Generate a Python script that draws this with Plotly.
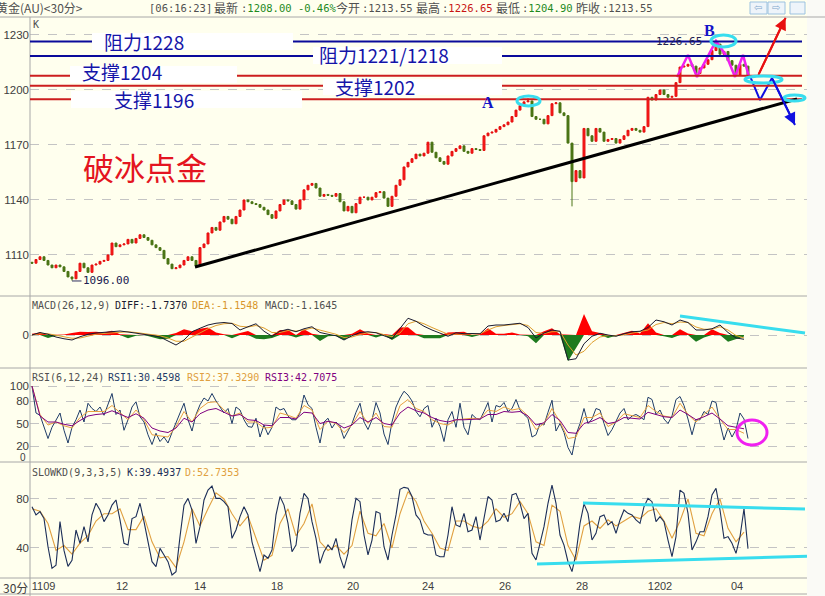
import plotly.graph_objects as go
from plotly.subplots import make_subplots

W, H = 825, 596

# ---------------- data ----------------
closes = [1105.5,1107.5,1109,1107,1104.5,1103,1104.5,1103.5,1101,1098,
          1097,1101,1105.5,1103,1100.5,1104.5,1105,1106.5,1107,1110,
          1116.5,1114.5,1115.5,1116,1118.5,1116.5,1119,1121,1119.5,1118,
          1115.5,1114,1112.5,1108,1105,1102.5,1103,1104.5,1107,1109,
          1107,1104,1114,1116,1122,1125,1123.5,1128,1131,1129.5,
          1127,1131,1134.5,1140,1139,1138,1137.5,1136,1134.5,1132,
          1130,1134,1137.5,1140,1139.5,1137.5,1135,1140,1145.5,1148,
          1149,1146.5,1142,1143,1142.5,1142,1143.5,1139,1134,1136.5,
          1133,1138,1141.5,1141.5,1140,1141.5,1144,1144.5,1141,1136.5,
          1142,1148,1151,1158,1160.5,1162.5,1165,1164,1165.5,1171.5,
          1166,1163,1161,1159.5,1164,1166.5,1168,1169.5,1166.5,1165.5,
          1168,1167.5,1167,1175,1176.5,1177,1178.5,1180,1181,1182.5,
          1185.5,1189,1191.5,1193.5,1194,1185.5,1184,1184,1181.5,1186,
          1192.5,1193,1187.5,1186,1171,1150,1156,1152,1179,1175,
          1172,1179,1177,1172,1173,1173.5,1171,1173,1175,1178,
          1179,1178,1177,1180,1196,1194.5,1197.5,1200,1197.5,1196,
          1196.5,1204,1212.5,1213,1214,1213,1209,1212,1214,1216.5,
          1221.5,1225,1219.5,1221,1216,1213.5,1208,1214,1213,1208]
first_open = 1106.0
spike_high = {124: 1195.5, 171: 1226.65}
spike_low = {10: 1096.0, 135: 1136.5}

macd_hist = [0.5,1.0,-1.2,-0.3,0.2,0.8,1.3,1.2,1.3,1.0,
             1.7,0.3,-1.3,-0.3,0.2,-0.8,-1.7,-1.5,0.8,2.3,
             1.5,2.5,3.0,1.0,0.3,-1.3,0.8,1.6,-1.5,-1.7,
             -1.2,2.0,2.0,-1.0,2.3,0.5,-2.4,-0.5,-0.3,-2.0,
             0.5,2.3,0.6,-1.0,0.4,-2.0,3.0,3.1,0.5,-1.3,
             -1.2,-1.3,1.0,1.2,1.3,-0.8,0.3,2.7,0.5,0.5,
             1.0,0.2,-0.5,-3.3,1.5,2.7,0.3,-10.5,-5.5,8.4,
             1.5,0.8,-1.2,-0.3,0.8,1.7,0.6,4.7,1.0,-0.5,
             -1.2,2.3,0.6,-2.7,-1.0,2.3,0.8,-2.7,-1.8,-0.6]
macd_diff = [0,1.0,0.3,-0.8,-1.5,-2.0,-0.7,0.3,0.8,1.0,
             1.3,1.6,1.2,0.8,0.3,-0.2,-0.8,-2.5,-4.0,-2.0,
             1.3,2.7,4.0,4.7,5.0,4.6,2.0,3.3,4.5,1.5,
             -0.5,1.5,2.3,1.3,2.5,3.3,1.0,0.3,-0.3,-2.0,
             -0.3,1.0,1.3,0.9,-0.3,-1.5,2.6,6.7,5.5,3.5,
             2.0,0.6,-0.5,0.9,0.5,0.6,0.5,3.6,4.0,4.0,
             4.5,4.7,3.0,-1.2,0.8,2.0,1.5,-10.0,-9.5,-3.5,
             -0.5,0.7,0.0,-0.5,0.5,1.3,1.5,3.0,6.0,5.3,
             4.0,6.0,5.0,2.0,2.0,2.5,4.0,1.0,-1.2,-1.7]
macd_dea = [0,0.5,0.5,0,-0.7,-1.3,-1.2,-0.4,0.3,0.6,
            0.9,1.2,1.3,1.0,0.6,0.2,-0.3,-1.2,-2.5,-2.5,
            -0.8,1.0,2.5,3.8,4.5,4.7,3.5,3.2,3.8,2.8,
            1.0,1.0,1.8,1.6,2.0,2.8,2.0,1.0,0.3,-1.0,
            -0.8,0.2,0.9,1.0,0.3,-0.7,0.8,4.5,5.5,4.5,
            3.0,1.5,0.3,0.3,0.4,0.5,0.5,2.0,3.3,3.8,
            4.2,4.5,3.8,1.0,0.6,1.3,1.4,-4.0,-8.0,-6.5,
            -3.0,-0.8,-0.2,-0.3,0.1,0.8,1.2,2.0,4.2,5.0,
            4.5,5.2,5.0,3.2,2.3,2.3,3.3,2.0,-0.2,-1.15]

rsi1 = [100,64,61,46,30,45,55,64,41,24,
        45,55,68,52,77,70,66,72,61,75,
        90,62,68,41,55,72,79,59,52,35,
        22,37,26,32,24,38,52,64,77,55,
        40,62,75,84,80,90,80,72,64,70,
        50,72,68,55,46,45,57,32,48,35,
        45,72,68,70,60,55,55,64,88,75,
        70,45,24,52,57,44,52,46,30,40,
        50,65,77,52,42,55,78,64,36,22,
        52,72,84,93,88,80,66,59,70,74,
        45,57,46,26,55,66,45,77,45,35,
        62,57,55,66,78,52,74,72,78,66,
        70,82,68,62,57,32,35,50,48,65,
        81,40,50,38,18,8,35,50,70,50,
        56,70,68,50,34,42,52,64,70,55,
        60,62,59,55,85,82,62,68,56,50,
        60,82,86,74,56,35,55,55,66,62,
        80,78,50,28,44,32,42,64,56,30]
rsi2 = [100,62,48,52,47,44,58,66,66,66,
        74,64,55,68,55,35,33,32,46,66,
        52,70,78,79,68,60,64,52,52,44,
        45,64,61,57,74,68,42,53,50,38,
        48,66,50,64,46,45,74,82,70,66,
        55,50,48,55,56,57,56,68,66,72,
        68,70,60,42,50,70,52,30,32,58,
        58,64,46,52,63,60,58,74,66,60,
        58,77,62,52,62,72,56,42,42,37]
rsi3 = [100,60,52,52,49,47,54,60,62,63,
        67,63,58,63,57,44,40,38,44,57,
        52,63,68,70,65,60,62,55,54,48,
        47,58,58,56,65,64,50,53,51,44,
        48,58,52,58,50,48,64,72,67,64,
        58,54,52,55,55,56,56,62,62,66,
        65,66,60,48,51,62,54,38,37,50,
        53,58,50,52,58,57,56,65,62,59,
        58,68,62,55,59,64,56,47,45,43]

kd_k = [73.7,67,69.7,64,41,23.4,26,61.5,38,25,
        30,54.7,43.8,57.4,45,67,76.5,71,61.5,67,
        75,79.2,62.9,43.8,42.4,64,65.6,76.5,61.5,45,
        28.8,24.8,39.7,34.3,28.8,18,20.7,49.3,75,80.5,
        71,43.8,57.4,79.2,87.3,90.6,80.5,80.5,77.8,73.7,
        47.9,54.7,65.6,73.7,67,45,32.9,20.7,34.3,31.6,
        38.4,67,82,75,60.1,37,42.4,68.3,84.6,80.5,
        61.5,47.9,27.5,37,42.4,38.4,47.9,32.9,23.4,35.6,
        62.9,80.5,77.8,50.6,34.3,46.5,69.7,68.3,41,30.2,
        50.6,67,87.9,89.5,88.7,82,67,62.9,52,50.6,
        50.6,34.3,32.9,32.9,50.6,73.7,58.8,57.4,68.3,53.3,
        54.7,65.6,46.5,65.6,82,79.2,61.5,62.9,68.3,61.5,
        83.3,84.6,76.5,64,68.3,35.6,30.2,43.8,57.4,76.5,
        91.4,76.5,50.6,42.4,28.8,20.7,35.6,60.1,76,68.3,
        46.5,52,65.6,67,58.8,61.5,52,62.9,71,68.3,
        67,62.9,60.1,73.7,80.5,77.8,61.5,65.6,61.5,46.5,
        32.9,49.3,87.3,84.6,68.3,38.4,45,53.3,53.3,65.6,
        83.3,88.7,71,47.9,49.3,43.8,35.6,49.3,72,39.5]
kd_d = [72,70,60,38,42,35,44,50,62,68,
        68,72,55,55,66,45,32,33,24,45,
        72,58,72,85,80,68,58,66,48,30,
        34,60,72,50,60,76,45,38,42,35,
        42,70,52,50,60,40,68,86,78,62,
        52,40,38,62,62,58,56,62,72,65,
        68,78,68,45,42,75,70,42,30,58,
        62,56,63,58,62,66,64,70,72,62,
        48,62,80,52,50,68,80,56,45,53]

date_tick_pos = [2.9, 22.5, 42, 61.25, 80.25, 99, 118.25, 137.5, 157, 176.25]
date_tick_text = ['1109', '12', '14', '18', '20', '24', '26', '28', '1202', '04']
price_ticks = [1230, 1200, 1170, 1140, 1110]
rsi_ticks = [100, 80, 50, 20]
kd_ticks = [80, 40]

# support / resistance levels and their labels
level_prices = [1226.4, 1218.5, 1207.8, 1202.3, 1194.9]
level_colors = ['#0A0A9A', '#0A0A9A', '#CC1E1E', '#CC1E1E', '#CC1E1E']
level_labels = ['阻力1228', '阻力1221/1218', '支撑1204', '支撑1202', '支撑1196']
label_x = [17.5, 71.25, 12, 75.25, 20]
label_y = [1226.2, 1219.4, 1210.1, 1201.9, 1194.8]
label_box_x = [(15, 65.25), (70.25, 117.5), (9.5, 51.25), (72.75, 117.5), (9.75, 67.5)]
label_box_y = [(1221.8, 1231.1), (1214.2, 1223.5), (1203.8, 1213.1), (1197.3, 1206.0), (1190.2, 1199.5)]

trend_x = [40.75, 191.25]
trend_y = [1103.45, 1195.1]
zig_m_x = [161.25, 164, 166.25, 171, 173.75, 175.75, 177.75, 179.25]
zig_m_y = [1207.1, 1219.1, 1207.1, 1226.7, 1218.0, 1207.1, 1219.1, 1207.1]
zig_b_x = [179.5, 182, 185, 190.75]
zig_b_y = [1207.6, 1194.5, 1206.5, 1180.9]
red_arrow = (181.6, 1208.2, 188.4, 1239.4)
ellipses = [(121.25, 127, 1191.3, 1196.7), (169.75, 176, 1223.5, 1230.0),
            (178.25, 187.5, 1203.8, 1207.6), (188, 193.25, 1194.0, 1197.3)]

# ---------------- derived OHLC ----------------
n = len(closes)
xi = list(range(n))
opens = [first_open] + closes[:-1]
highs = [max(o, c) for o, c in zip(opens, closes)]
lows = [min(o, c) for o, c in zip(opens, closes)]
for k, v in spike_high.items():
    highs[k] = v
for k, v in spike_low.items():
    lows[k] = v
x2 = [2 * j for j in range(len(macd_hist))]

# ---------------- figure ----------------
fig = make_subplots(rows=4, cols=1, shared_xaxes=True, vertical_spacing=0)

fig.add_trace(go.Candlestick(
    x=xi, open=opens, high=highs, low=lows, close=closes,
    increasing=dict(line=dict(color='#E41010', width=1), fillcolor='#FF1A1A'),
    decreasing=dict(line=dict(color='#4A7414', width=1), fillcolor='#4A7414'),
    whiskerwidth=0, showlegend=False, hoverinfo='skip'), row=1, col=1)

fig.add_trace(go.Scatter(x=zig_m_x, y=zig_m_y, mode='lines',
                         line=dict(color='#F020F0', width=2.5), showlegend=False, hoverinfo='skip'), row=1, col=1)
fig.add_trace(go.Scatter(x=zig_b_x, y=zig_b_y, mode='lines',
                         line=dict(color='#1010E0', width=2), showlegend=False, hoverinfo='skip'), row=1, col=1)
fig.add_trace(go.Scatter(x=[red_arrow[0], red_arrow[2]], y=[red_arrow[1], red_arrow[3]], mode='lines',
                         line=dict(color='#E81010', width=2), showlegend=False, hoverinfo='skip'), row=1, col=1)

pos = [v if v > 0 else 0 for v in macd_hist]
neg = [v if v < 0 else 0 for v in macd_hist]
fig.add_trace(go.Scatter(x=x2, y=pos, mode='lines', fill='tozeroy', fillcolor='#FF0000',
                         line=dict(width=0, color='#FF0000'), showlegend=False, hoverinfo='skip'), row=2, col=1)
fig.add_trace(go.Scatter(x=x2, y=neg, mode='lines', fill='tozeroy', fillcolor='#1E7A1E',
                         line=dict(width=0, color='#1E7A1E'), showlegend=False, hoverinfo='skip'), row=2, col=1)
fig.add_trace(go.Scatter(x=x2, y=macd_dea, mode='lines', line=dict(color='#E0A030', width=1),
                         showlegend=False, hoverinfo='skip'), row=2, col=1)
fig.add_trace(go.Scatter(x=x2, y=macd_diff, mode='lines', line=dict(color='#1A1A30', width=1),
                         showlegend=False, hoverinfo='skip'), row=2, col=1)

fig.add_trace(go.Scatter(x=xi, y=rsi1, mode='lines', line=dict(color='#1F3C68', width=1),
                         showlegend=False, hoverinfo='skip'), row=3, col=1)
fig.add_trace(go.Scatter(x=x2, y=rsi2, mode='lines', line=dict(color='#E8A040', width=1),
                         showlegend=False, hoverinfo='skip'), row=3, col=1)
fig.add_trace(go.Scatter(x=x2, y=rsi3, mode='lines', line=dict(color='#800080', width=1),
                         showlegend=False, hoverinfo='skip'), row=3, col=1)

fig.add_trace(go.Scatter(x=x2, y=kd_d, mode='lines', line=dict(color='#E0A040', width=1.1),
                         showlegend=False, hoverinfo='skip'), row=4, col=1)
fig.add_trace(go.Scatter(x=xi, y=kd_k, mode='lines', line=dict(color='#1C2E58', width=1.1),
                         showlegend=False, hoverinfo='skip'), row=4, col=1)

# ---------------- layout helpers ----------------
def py(p):  # pixel row -> paper y
    return 1 - p / H

def pxx(p):  # pixel col -> paper x
    return p / W

XDOM = [pxx(30), pxx(807)]
XR = [-0.5, 193.75]
tickfont = dict(family='Liberation Sans, Arial', size=11.5, color='#404040')
grid = dict(showgrid=True, gridcolor='#C4C4C4', griddash='dash', gridwidth=1, zeroline=False,
            showline=False, ticks='', tickfont=tickfont, fixedrange=True)

fig.update_layout(
    width=W, height=H, margin=dict(l=0, r=0, t=0, b=0),
    paper_bgcolor='#FFFFEE', plot_bgcolor='#FFFFEE', showlegend=False,
    font=dict(family='Noto Sans CJK SC'),
)
for k in range(1, 5):
    fig.layout['xaxis' if k == 1 else f'xaxis{k}'].update(
        domain=XDOM, range=XR, showgrid=False, zeroline=False, showline=False,
        showticklabels=(k == 4), ticks='', rangeslider=dict(visible=False), fixedrange=True)
fig.layout.xaxis4.update(tickvals=date_tick_pos, ticktext=date_tick_text,
                         tickfont=dict(family='Liberation Sans, Arial', size=11, color='#404040'))
fig.layout.yaxis.update(domain=[py(296), py(17)], range=[1087.6, 1239.8], tickvals=price_ticks, **grid)
fig.layout.yaxis2.update(domain=[py(368), py(296)], range=[-13.2, 15.6], tickvals=[0], **grid)
fig.layout.yaxis3.update(domain=[py(462), py(368)], range=[-1.3, 124], tickvals=rsi_ticks + [0],
                         ticktext=[str(v) for v in rsi_ticks] + [''], **grid)
fig.layout.yaxis4.update(domain=[py(578), py(462)], range=[15.5, 110.2], tickvals=kd_ticks, **grid)

shapes = []
# right strip + structure lines
shapes.append(dict(type='rect', xref='paper', yref='paper', x0=pxx(807), x1=1, y0=0, y1=1,
                   fillcolor='#FAFAF6', line=dict(width=0), layer='below'))
for yy in [17, 296, 368, 462, 578, 594]:
    shapes.append(dict(type='line', xref='paper', yref='paper', x0=0, x1=pxx(807 if yy != 17 else 825),
                       y0=py(yy), y1=py(yy), line=dict(color='#A8A8A8', width=1)))
shapes.append(dict(type='line', xref='paper', yref='paper', x0=pxx(30), x1=pxx(30), y0=py(17), y1=py(596),
                   line=dict(color='#A8A8A8', width=1)))
# support / resistance lines
for lp, lc in zip(level_prices, level_colors):
    shapes.append(dict(type='line', xref='x', yref='y', x0=-0.5, x1=192.5, y0=lp, y1=lp,
                       line=dict(color=lc, width=2)))
for (bx0, bx1), (by0, by1) in zip(label_box_x, label_box_y):
    shapes.append(dict(type='rect', xref='x', yref='y', x0=bx0, x1=bx1, y0=by0, y1=by1,
                       fillcolor='#FFFFFF', line=dict(width=0)))
# trend line
shapes.append(dict(type='line', xref='x', yref='y', x0=trend_x[0], x1=trend_x[1], y0=trend_y[0], y1=trend_y[1],
                   line=dict(color='#000000', width=3)))
for ex0, ex1, ey0, ey1 in ellipses:
    shapes.append(dict(type='circle', xref='x', yref='y', x0=ex0, x1=ex1, y0=ey0, y1=ey1,
                       line=dict(color='#38DDEE', width=3)))
# indicator annotations
shapes.append(dict(type='line', xref='x2', yref='y2', x0=162, x1=193.25, y0=7.6, y1=0.8,
                   line=dict(color='#38DDEE', width=3)))
shapes.append(dict(type='circle', xref='x3', yref='y3', x0=176.25, x1=183.75, y0=21.3, y1=54.7,
                   line=dict(color='#F020F0', width=3)))
shapes.append(dict(type='line', xref='x4', yref='y4', x0=137.75, x1=193.25, y0=76.7, y1=71.8,
                   line=dict(color='#38DDEE', width=3)))
shapes.append(dict(type='line', xref='x4', yref='y4', x0=126.25, x1=193.75, y0=26.9, y1=33.2,
                   line=dict(color='#38DDEE', width=3)))
# header buttons
for bx0, bx1 in [(750, 767), (768, 785), (790, 805)]:
    shapes.append(dict(type='rect', xref='paper', yref='paper', x0=pxx(bx0), x1=pxx(bx1), y0=py(14), y1=py(2),
                       fillcolor='#EEF4FA', line=dict(color='#9CC2E0', width=1)))
fig.update_layout(shapes=shapes)

ann = []
def ptext(x, y, text, size=12, color='#404040', family='Noto Sans CJK SC', anchor='left'):
    ann.append(dict(xref='paper', yref='paper', x=pxx(x), y=py(y), text=text, showarrow=False,
                    xanchor=anchor, yanchor='middle', borderpad=0,
                    font=dict(size=size, color=color, family=family)))

mono = 'DejaVu Sans Mono'
gray = '#505050'
# header
ptext(-5, 8, '黄金(AU)&lt;30分&gt;', 12, gray)
ptext(148, 8, '[06:16:23]', 10.5, gray, mono)
ptext(213, 8, '最新', 12, gray)
ptext(240, 8, f'<span style="color:{gray}">:</span>1208.00 -0.46%', 10.5, '#1E8A1E', mono)
ptext(335, 8, '今开', 12, gray)
ptext(361, 8, ':1213.55', 10.5, gray, mono)
ptext(415, 8, '最高', 12, gray)
ptext(441, 8, f'<span style="color:{gray}">:</span>1226.65', 10.5, '#C81414', mono)
ptext(495, 8, '最低', 12, gray)
ptext(521, 8, f'<span style="color:{gray}">:</span>1204.90', 10.5, '#1E8A1E', mono)
ptext(575, 8, '昨收', 12, gray)
ptext(601, 8, ':1213.55', 10.5, gray, mono)
ptext(753, 8, '⇦', 10, '#7FA8CC', 'DejaVu Sans')
ptext(771, 8, '⇨', 10, '#7FA8CC', 'DejaVu Sans')
ptext(32, 25, 'K', 10, gray, mono)
# indicator titles
ptext(31, 305, 'MACD(26,12,9)', 10, gray, mono)
ptext(114, 305, 'DIFF:-1.7370', 10, '#1A1A30', mono)
ptext(191, 305, 'DEA:-1.1548', 10, '#D8962A', mono)
ptext(264, 305, 'MACD:-1.1645', 10, gray, mono)
ptext(31, 377, 'RSI(6,12,24)', 10, gray, mono)
ptext(107, 377, 'RSI1:30.4598', 10, '#1F3C68', mono)
ptext(186, 377, 'RSI2:37.3290', 10, '#E0A040', mono)
ptext(264, 377, 'RSI3:42.7075', 10, '#800080', mono)
ptext(31, 472, 'SLOWKD(9,3,3,5)', 10, gray, mono)
ptext(126, 472, 'K:39.4937', 10, '#1C2E58', mono)
ptext(184, 472, 'D:52.7353', 10, '#E0A040', mono)
ptext(27, 457.5, '0', 10, '#404040', 'Liberation Sans, Arial', 'right')
ptext(2, 587, '30分', 12, '#404040')

# chart text in data coords
for t, lx, ly in zip(level_labels, label_x, label_y):
    ann.append(dict(xref='x', yref='y', x=lx, y=ly, text=t, showarrow=False, xanchor='left', yanchor='middle',
                    font=dict(size=19, color='#1414A8', family='Noto Sans CJK SC')))
ann.append(dict(xref='x', yref='y', x=28.25, y=1158.0, text='破冰点金', showarrow=False,
                font=dict(size=31, color='#E41420', family='Noto Sans CJK SC')))
ann.append(dict(xref='x', yref='y', x=114, y=1192.9, text='<b>A</b>', showarrow=False,
                font=dict(size=16, color='#1414C8', family='Liberation Serif')))
ann.append(dict(xref='x', yref='y', x=169.25, y=1232.7, text='<b>B</b>', showarrow=False,
                font=dict(size=16, color='#1414C8', family='Liberation Serif')))
ann.append(dict(xref='x', yref='y', x=161.75, y=1226.7, text='1226.65', showarrow=False,
                font=dict(size=11, color='#202050', family=mono)))
ann.append(dict(xref='x', yref='y', x=10, y=1095.8, text='1096.00', showarrow=True, arrowhead=0,
                arrowwidth=1, arrowcolor='#303060', ax=34, ay=0,
                font=dict(size=11, color='#202050', family=mono)))
ann.append(dict(xref='x', yref='y', axref='x', ayref='y', x=red_arrow[2], y=red_arrow[3],
                ax=red_arrow[0], ay=red_arrow[1], text='', showarrow=True, arrowhead=2,
                arrowsize=1.2, arrowwidth=2, arrowcolor='#E81010'))
ann.append(dict(xref='x', yref='y', axref='x', ayref='y', x=zig_b_x[-1], y=zig_b_y[-1],
                ax=zig_b_x[-2], ay=zig_b_y[-2], text='', showarrow=True, arrowhead=2,
                arrowsize=1.2, arrowwidth=2, arrowcolor='#1010E0'))
fig.update_layout(annotations=ann)

fig.write_html('out.html', config={'displayModeBar': False, 'staticPlot': True},
               post_script="document.body.style.margin='0px';document.body.style.padding='0px';")
